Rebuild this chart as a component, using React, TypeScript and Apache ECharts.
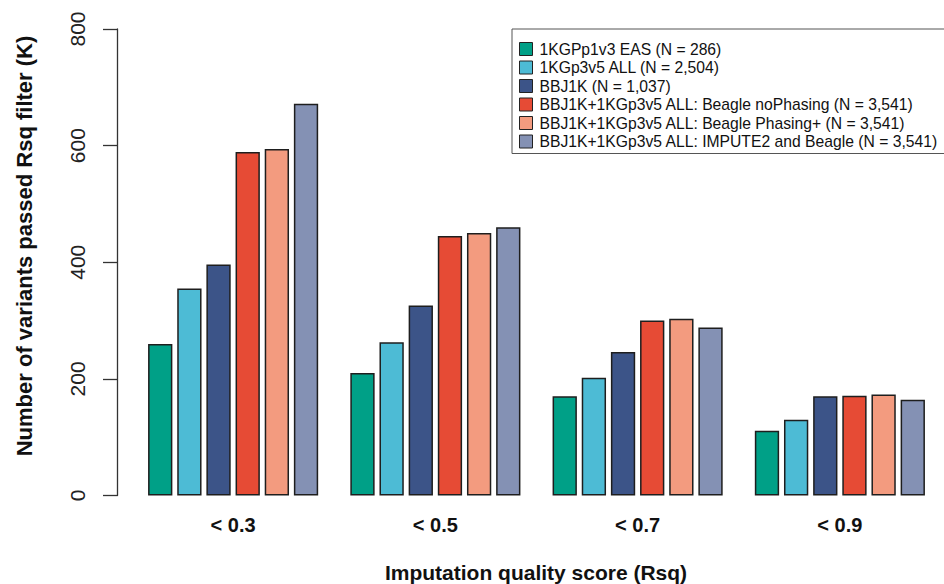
import React, { useEffect, useRef } from "react";
import * as echarts from "echarts";

const categories = ["< 0.3", "< 0.5", "< 0.7", "< 0.9"];
const seriesNames = [
  "1KGPp1v3 EAS (N = 286)",
  "1KGp3v5 ALL (N = 2,504)",
  "BBJ1K (N = 1,037)",
  "BBJ1K+1KGp3v5 ALL: Beagle noPhasing (N = 3,541)",
  "BBJ1K+1KGp3v5 ALL: Beagle Phasing+ (N = 3,541)",
  "BBJ1K+1KGp3v5 ALL: IMPUTE2 and Beagle (N = 3,541)",
];
const eas1kg = [260, 210, 170, 111];
const all1kg = [355, 263, 202, 130];
const bbj1k = [396, 326, 246, 170];
const beagleNoPhasing = [589, 445, 300, 171];
const beaglePhasingPlus = [594, 450, 303, 173];
const impute2Beagle = [672, 460, 288, 164];
const seriesValues = [eas1kg, all1kg, bbj1k, beagleNoPhasing, beaglePhasingPlus, impute2Beagle];
const colors = ["#00A087", "#4DBBD5", "#3C5488", "#E64B35", "#F39B7F", "#8491B4"];
const yTicks = { min: 0, max: 800, interval: 200 };
const yTitle = "Number of variants passed Rsq filter (K)";
const xTitle = "Imputation quality score (Rsq)";

const FONT = "'Liberation Sans', Arial, Helvetica, sans-serif";

export default function App() {
  const ref = useRef<HTMLDivElement>(null);
  useEffect(() => {
    if (!ref.current) return;
    const chart = echarts.init(ref.current, null, { renderer: "svg" });
    chart.setOption({
      animation: false,
      backgroundColor: "#ffffff",
      textStyle: { fontFamily: FONT },
      grid: { left: 132, right: 3, top: 29, bottom: 88.5, containLabel: false },
      legend: {
        orient: "vertical",
        left: 512,
        top: 29,
        data: seriesNames,
        backgroundColor: "#ffffff",
        borderColor: "#555555",
        borderWidth: 1,
        padding: [12, 40, 4, 7],
        itemWidth: 13,
        itemHeight: 13,
        itemGap: 2.5,
        icon: "rect",
        itemStyle: { borderColor: "#222222", borderWidth: 1 },
        textStyle: {
          fontFamily: FONT,
          fontSize: 15.7,
          color: "#111111",
          lineHeight: 16,
          padding: [0, 0, 0, 2],
        },
      },
      xAxis: {
        type: "category",
        data: categories,
        axisLine: { show: false },
        axisTick: { show: false },
        axisLabel: {
          fontFamily: FONT,
          fontSize: 20,
          fontWeight: "bold",
          color: "#111111",
          margin: 19,
        },
      },
      yAxis: {
        type: "value",
        min: yTicks.min,
        max: yTicks.max,
        interval: yTicks.interval,
        offset: 15,
        splitLine: { show: false },
        axisLine: { show: true, lineStyle: { color: "#333333", width: 1.3 } },
        axisTick: { show: true, length: 14, lineStyle: { color: "#333333", width: 1.3 } },
        axisLabel: {
          rotate: 90,
          fontFamily: FONT,
          fontSize: 21,
          color: "#222222",
          margin: 29,
        },
      },
      series: seriesNames.map((name, i) => ({
        name,
        type: "bar",
        data: seriesValues[i],
        barWidth: 24.3,
        barGap: "20%",
        itemStyle: { color: colors[i], borderColor: "#1e1e1e", borderWidth: 1.5 },
      })),
      graphic: [
        {
          type: "text",
          x: 24,
          y: 246,
          rotation: Math.PI / 2,
          style: {
            text: yTitle,
            fontFamily: FONT,
            fontSize: 22,
            fontWeight: "bold",
            fill: "#111111",
            align: "center",
            verticalAlign: "middle",
          },
        },
        {
          type: "text",
          x: 536,
          y: 572,
          style: {
            text: xTitle,
            fontFamily: FONT,
            fontSize: 21,
            fontWeight: "bold",
            fill: "#111111",
            align: "center",
            verticalAlign: "middle",
          },
        },
      ],
    });
    return () => chart.dispose();
  }, []);
  return (
    <div
      ref={ref}
      style={{ position: "fixed", left: 0, top: 0, width: 944, height: 584 }}
    />
  );
}
